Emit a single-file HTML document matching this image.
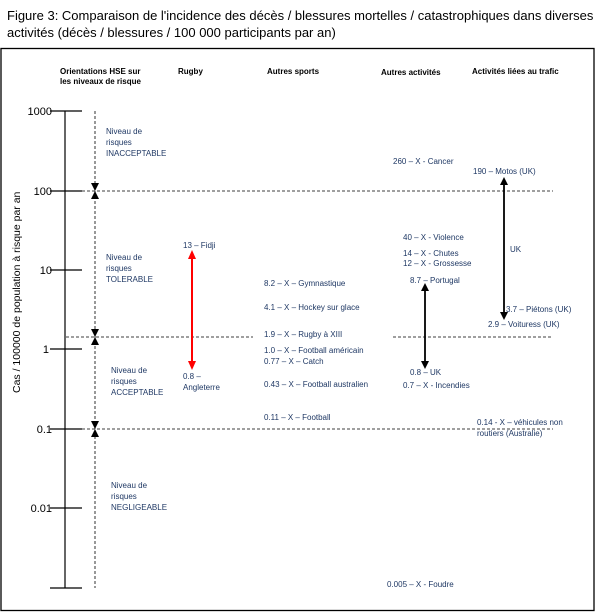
<!DOCTYPE html>
<html><head><meta charset="utf-8"><style>
body{margin:0;background:#fff;}
svg{display:block;font-family:"Liberation Sans",sans-serif;}
.t{font-size:8px;fill:#1f3864;}
.h{font-size:8px;font-weight:bold;fill:#000;}
.k{font-size:11px;fill:#000;}
</style></head><body>
<svg width="612" height="612" viewBox="0 0 612 612">
<text x="7" y="20" font-size="13" fill="#000">Figure 3: Comparaison de l'incidence des décès / blessures  mortelles / catastrophiques dans diverses</text>
<text x="7" y="37" font-size="13" fill="#000">activités (décès / blessures  / 100 000 participants par an)</text>
<rect x="1" y="48.5" width="593" height="562" fill="none" stroke="#000" stroke-width="1.3"/>
<text class="h" x="60" y="74">Orientations  HSE sur</text>
<text class="h" x="60" y="84">les niveaux de risque</text>
<text class="h" x="178" y="74">Rugby</text>
<text class="h" x="267" y="74">Autres sports</text>
<text class="h" x="381" y="75">Autres activités</text>
<text class="h" x="472" y="74">Activités liées au trafic</text>
<g stroke="#000" stroke-width="1.2">
<line x1="65" y1="111" x2="65" y2="588"/>
<line x1="50" y1="111" x2="82" y2="111"/><line x1="50" y1="191" x2="82" y2="191"/>
<line x1="50" y1="270" x2="82" y2="270"/><line x1="50" y1="349" x2="82" y2="349"/>
<line x1="50" y1="429" x2="82" y2="429"/><line x1="50" y1="508" x2="82" y2="508"/>
<line x1="50" y1="588" x2="82" y2="588"/>
</g>
<g class="k" text-anchor="end">
<text x="52" y="115">1000</text><text x="52" y="195">100</text><text x="52" y="274">10</text>
<text x="49" y="353">1</text><text x="52" y="433">0.1</text><text x="52" y="512">0.01</text>
</g>
<text transform="translate(20,393) rotate(-90)" font-size="10.5" fill="#000">Cas / 100000 de population à risque par an</text>
<g stroke="#000" stroke-width="0.8" stroke-dasharray="3,2" fill="none">
<line x1="95" y1="111" x2="95" y2="588"/>
<line x1="82" y1="191" x2="553" y2="191"/>
<line x1="66" y1="337" x2="253" y2="337"/>
<line x1="393" y1="337" x2="553" y2="337"/>
<line x1="82" y1="429" x2="553" y2="429"/>
</g>
<g fill="#000">
<polygon points="91,183 99,183 95,191"/><polygon points="91,199 99,199 95,191"/>
<polygon points="91,329 99,329 95,337"/><polygon points="91,345 99,345 95,337"/>
<polygon points="91,421 99,421 95,429"/><polygon points="91,437 99,437 95,429"/>
</g>
<g class="t">
<text x="106" y="134">Niveau de</text><text x="106" y="145">risques</text><text x="106" y="156">INACCEPTABLE</text>
<text x="106" y="260">Niveau de</text><text x="106" y="271">risques</text><text x="106" y="282">TOLERABLE</text>
<text x="111" y="373">Niveau de</text><text x="111" y="384">risques</text><text x="111" y="395">ACCEPTABLE</text>
<text x="111" y="488">Niveau de</text><text x="111" y="499">risques</text><text x="111" y="510">NEGLIGEABLE</text>
<text x="183" y="248">13 – Fidji</text>
<text x="183" y="379">0.8 –</text><text x="183" y="390">Angleterre</text>
<text x="264" y="286">8.2 – X – Gymnastique</text>
<text x="264" y="310">4.1 – X – Hockey sur glace</text>
<text x="264" y="337">1.9 – X – Rugby à XIII</text>
<text x="264" y="353">1.0 – X – Football  américain</text>
<text x="264" y="364">0.77 – X – Catch</text>
<text x="264" y="387">0.43 – X – Football australien</text>
<text x="264" y="420">0.11 – X – Football</text>
<text x="393" y="164">260 – X - Cancer</text>
<text x="473" y="174">190 – Motos (UK)</text>
<text x="403" y="240">40 – X - Violence</text>
<text x="403" y="256">14 – X - Chutes</text>
<text x="403" y="266">12 – X - Grossesse</text>
<text x="410" y="283">8.7 – Portugal</text>
<text x="510" y="252">UK</text>
<text x="506" y="312">3.7 – Piétons (UK)</text>
<text x="488" y="327">2.9 – Voituress (UK)</text>
<text x="410" y="375">0.8 – UK</text>
<text x="403" y="388">0.7 – X - Incendies</text>
<text x="477" y="425">0.14 - X – véhicules  non</text>
<text x="477" y="436">routiers (Australie)</text>
<text x="387" y="587">0.005 – X - Foudre</text>
</g>
<g stroke="#f00" stroke-width="2"><line x1="192" y1="258" x2="192" y2="362"/></g>
<g fill="#f00"><polygon points="188,259 196,259 192,250"/><polygon points="188,361 196,361 192,370"/></g>
<g stroke="#000" stroke-width="1.8"><line x1="425" y1="290" x2="425" y2="362"/><line x1="504" y1="184" x2="504" y2="313"/></g>
<g fill="#000"><polygon points="421,291 429,291 425,283"/><polygon points="421,361 429,361 425,369"/>
<polygon points="500,185 508,185 504,177"/><polygon points="500,312 508,312 504,320"/></g>
</svg>
</body></html>
